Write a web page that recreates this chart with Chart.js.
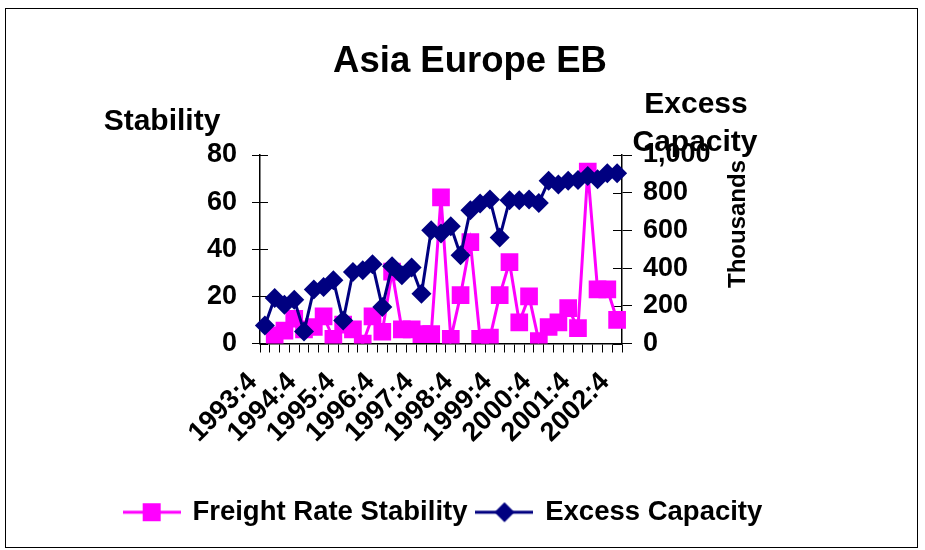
<!DOCTYPE html>
<html>
<head>
<meta charset="utf-8">
<script src="https://cdn.jsdelivr.net/npm/chart.js@4.4.1/dist/chart.umd.min.js"></script>
<style>
  html, body { margin: 0; padding: 0; background: #fff; }
  #wrap { width: 925px; height: 550px; }
</style>
</head>
<body>
<div id="wrap"><canvas id="chart" width="925" height="550"></canvas></div>
<script>
// Quarterly categories, 1993:4 .. 2002:4
const quarters = [
  '1993:4',
  '1994:1', '1994:2', '1994:3', '1994:4',
  '1995:1', '1995:2', '1995:3', '1995:4',
  '1996:1', '1996:2', '1996:3', '1996:4',
  '1997:1', '1997:2', '1997:3', '1997:4',
  '1998:1', '1998:2', '1998:3', '1998:4',
  '1999:1', '1999:2', '1999:3', '1999:4',
  '2000:1', '2000:2', '2000:3', '2000:4',
  '2001:1', '2001:2', '2001:3', '2001:4',
  '2002:1', '2002:2', '2002:3', '2002:4'
];

// Freight rate stability index (left axis)
const freightRateStability = [
  null, 3.5, 5.5, 10.5, 6, 7, 11.5, 2, 8, 6, 0, 11.5, 5,
  30.5, 6, 6, 4, 4, 62, 2, 20.5, 43, 2, 2.5, 20.5, 34.5,
  9, 20, 1, 7, 9, 15, 6.5, 73, 23, 23, 10
];

// Excess capacity in thousands (right axis)
const excessCapacity = [
  96, 241, 206, 232, 64, 287, 300, 335, 122, 379, 388, 420, 193,
  410, 362, 403, 264, 601, 583, 622, 468, 707, 743, 764, 562, 760,
  760, 764, 746, 863, 844, 863, 867, 888, 871, 903, 903
];

const stabilityTicks = [0, 20, 40, 60, 80];
const capacityTicks = [0, 200, 400, 600, 800, 1000];

const PINK = '#FF00FF';
const NAVY = '#000080';
const FONT = 'Arial, "Liberation Sans", sans-serif';

Chart.defaults.font.family = FONT;
Chart.defaults.color = '#000';

// Legend glyph: a short line with the series marker in the middle
function legendGlyph(color, marker) {
  const cv = document.createElement('canvas');
  cv.width = 58; cv.height = 24;
  const g = cv.getContext('2d');
  g.strokeStyle = color; g.lineWidth = 3;
  g.beginPath(); g.moveTo(0, 12); g.lineTo(58, 12); g.stroke();
  g.fillStyle = color;
  if (marker === 'rect') {
    g.fillRect(29 - 9, 12 - 9, 18, 18);
  } else {
    g.beginPath();
    g.moveTo(19, 12); g.lineTo(29, 2); g.lineTo(39, 12); g.lineTo(29, 22);
    g.closePath(); g.fill();
  }
  return cv;
}
const glyphs = [legendGlyph(PINK, 'rect'), legendGlyph(NAVY, 'diamond')];

// White page, outer frame and free-standing titles
const chartText = {
  id: 'chartText',
  beforeDraw(chart) {
    const ctx = chart.ctx;
    ctx.save();
    ctx.fillStyle = '#fff';
    ctx.fillRect(0, 0, chart.width, chart.height);
    ctx.strokeStyle = '#000';
    ctx.lineWidth = 1;
    ctx.strokeRect(5.5, 8.5, 912, 539);
    ctx.restore();
  },
  afterDraw(chart) {
    const ctx = chart.ctx;
    ctx.save();
    ctx.fillStyle = '#000';
    ctx.textAlign = 'center';
    ctx.textBaseline = 'middle';
    ctx.font = 'bold 36.5px ' + FONT;
    ctx.fillText('Asia Europe EB', 470, 62);
    ctx.font = 'bold 30px ' + FONT;
    ctx.fillText('Stability', 162, 122);
    ctx.fillText('Excess', 696, 105);
    ctx.fillText('Capacity', 695, 143);
    ctx.translate(738, 224);
    ctx.rotate(-Math.PI / 2);
    ctx.font = 'bold 24px ' + FONT;
    ctx.fillText('Thousands', 0, 0);
    ctx.restore();
  }
};

// Tick marks that cross the value axes (inner half)
const innerTicks = {
  id: 'innerTicks',
  beforeDatasetsDraw(chart) {
    const { ctx, scales } = chart;
    const y = scales.y, y1 = scales.y1;
    ctx.save();
    ctx.strokeStyle = '#000';
    ctx.lineWidth = 1;
    ctx.beginPath();
    y.ticks.forEach(t => {
      const py = Math.round(y.getPixelForValue(t.value)) + 0.5;
      ctx.moveTo(y.right, py); ctx.lineTo(y.right + 8, py);
    });
    y1.ticks.forEach(t => {
      const py = Math.round(y1.getPixelForValue(t.value)) + 0.5;
      ctx.moveTo(y1.left - 9, py); ctx.lineTo(y1.left, py);
    });
    ctx.stroke();
    ctx.restore();
  }
};

new Chart(document.getElementById('chart'), {
  type: 'line',
  data: {
    labels: quarters,
    datasets: [
      {
        label: 'Freight Rate Stability',
        data: freightRateStability,
        yAxisID: 'y',
        borderColor: PINK,
        backgroundColor: PINK,
        borderWidth: 3,
        pointStyle: 'rect',
        pointRadius: 12.5,
        pointBorderWidth: 0,
        pointBackgroundColor: PINK,
        tension: 0,
        order: 1
      },
      {
        label: 'Excess Capacity',
        data: excessCapacity,
        yAxisID: 'y1',
        borderColor: NAVY,
        backgroundColor: NAVY,
        borderWidth: 3,
        pointStyle: 'rectRot',
        pointRadius: 10,
        pointBorderWidth: 0,
        pointBackgroundColor: NAVY,
        tension: 0,
        order: 0
      }
    ]
  },
  options: {
    responsive: false,
    animation: false,
    devicePixelRatio: 1,
    layout: { padding: { top: 155, left: 0, right: 38, bottom: 14 } },
    plugins: {
      title: { display: false },
      tooltip: { enabled: false },
      legend: {
        position: 'bottom',
        labels: {
          usePointStyle: true,
          pointStyleWidth: 54,
          padding: 10,
          color: '#000',
          font: { size: 27.5, weight: 'bold' },
          sort: (a, b) => a.datasetIndex - b.datasetIndex,
          generateLabels(chart) {
            const items = Chart.defaults.plugins.legend.labels.generateLabels(chart);
            items.forEach(it => { it.pointStyle = glyphs[it.datasetIndex]; });
            return items;
          }
        }
      }
    },
    scales: {
      x: {
        type: 'category',
        offset: true,
        grid: { display: true, offset: true, drawOnChartArea: false, drawTicks: true, tickLength: 9, color: '#000', lineWidth: 1 },
        border: { display: true, color: '#000', width: 1.5 },
        ticks: {
          autoSkip: false,
          maxRotation: 45,
          minRotation: 45,
          padding: 14,
          labelOffset: -12,
          color: '#000',
          font: { size: 27, weight: 'bold' },
          callback: (val, i) => (i % 4 === 0 ? quarters[i] : '')
        },
        afterFit(scale) { scale.height = 145; }
      },
      y: {
        position: 'left',
        min: stabilityTicks[0],
        max: stabilityTicks[stabilityTicks.length - 1],
        grid: { drawOnChartArea: false, drawTicks: true, tickLength: 8, color: '#000', lineWidth: 1 },
        border: { display: true, color: '#000', width: 1.5 },
        ticks: {
          stepSize: stabilityTicks[1] - stabilityTicks[0],
          padding: 15,
          color: '#000',
          font: { size: 27, weight: 'bold' }
        },
        afterFit(scale) { scale.width = 260; }
      },
      y1: {
        position: 'right',
        min: capacityTicks[0],
        max: capacityTicks[capacityTicks.length - 1],
        grid: { drawOnChartArea: false, drawTicks: true, tickLength: 10, color: '#000', lineWidth: 1 },
        border: { display: true, color: '#000', width: 1.5 },
        ticks: {
          stepSize: capacityTicks[1] - capacityTicks[0],
          padding: 11,
          color: '#000',
          font: { size: 27, weight: 'bold' },
          callback: v => v.toLocaleString('en-US')
        },
        afterFit(scale) { scale.width = 265; }
      }
    }
  },
  plugins: [chartText, innerTicks]
});
</script>
</body>
</html>
